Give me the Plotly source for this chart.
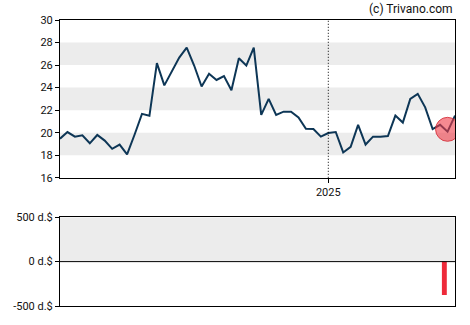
import plotly.graph_objects as go
import pandas as pd

dates = pd.date_range("2024-04-24", periods=54, freq="7D")
prices = [19.47, 20.06, 19.65, 19.77, 19.06, 19.8, 19.3, 18.57, 18.95, 18.07,
          19.82, 21.67, 21.5, 26.17, 24.2, 25.38, 26.67, 27.54, 25.96, 24.1,
          25.23, 24.68, 25.03, 23.77, 26.6, 25.96, 27.54, 21.58, 23.0, 21.58,
          21.87, 21.87, 21.35, 20.35, 20.32, 19.65, 19.97, 20.06, 18.25, 18.74,
          20.7, 18.95, 19.65, 19.65, 19.7, 21.52, 20.9, 23.0, 23.45, 22.25,
          20.32, 20.7, 20.09, 21.52]
marker_x = [dates[52]]
marker_y = [20.3]
bar_x = [pd.Timestamp("2025-04-20")]
bar_y = [-375]
price_ticks = [16, 18, 20, 22, 24, 26, 28, 30]
vol_ticks = [-500, 0, 500]
vol_tick_text = ["-500 d.$", "0 d.$", "500 d.$"]
year_tick = [pd.Timestamp("2025-01-01")]
year_tick_text = ["2025"]

fig = go.Figure()
fig.add_trace(go.Scatter(x=dates, y=prices, mode="lines",
                         line=dict(color="#0d3656", width=2), xaxis="x", yaxis="y",
                         hoverinfo="skip"))
fig.add_trace(go.Scatter(x=marker_x, y=marker_y, mode="markers",
                         marker=dict(size=24, color="rgba(238,60,72,0.6)",
                                     line=dict(color="rgba(210,40,50,0.8)", width=1)),
                         xaxis="x", yaxis="y"))
fig.add_trace(go.Bar(x=bar_x, y=bar_y, marker=dict(color="#ee2a3a", line=dict(width=0)),
                     width=4.6 * 86400000, xaxis="x2", yaxis="y2"))

shapes = []
for lo, hi in [(18, 20), (22, 24), (26, 28)]:
    shapes.append(dict(type="rect", xref="x domain", yref="y", x0=0, x1=1, y0=lo, y1=hi,
                       fillcolor="#ececec", line=dict(width=0), layer="below"))
shapes.append(dict(type="rect", xref="x2 domain", yref="y2", x0=0, x1=1, y0=0, y1=500,
                   fillcolor="#ececec", line=dict(width=0), layer="below"))
shapes.append(dict(type="line", xref="x", yref="y domain", x0=year_tick[0], x1=year_tick[0],
                   y0=0, y1=1, line=dict(color="black", width=1, dash="1px,2px")))
shapes.append(dict(type="line", xref="x2 domain", yref="y2", x0=0, x1=1, y0=0, y1=0,
                   line=dict(color="black", width=1)))

xr = [dates[0], dates[-1]]
font = dict(family="Roboto, Arial, sans-serif", size=11, color="#111")
fig.update_layout(
    width=470, height=325,
    margin=dict(l=60, r=15, t=20, b=15),
    paper_bgcolor="white", plot_bgcolor="white",
    showlegend=False, font=font, shapes=shapes,
    xaxis=dict(domain=[0, 1], anchor="y", range=xr, tickvals=year_tick, ticktext=year_tick_text,
               ticks="outside", ticklen=4, tickcolor="black", showgrid=False, zeroline=False,
               showline=True, linecolor="black", linewidth=1, mirror=True),
    yaxis=dict(domain=[0.4483, 1], anchor="x", range=[16, 30], tickvals=price_ticks,
               ticks="outside", ticklen=4, tickcolor="black", showgrid=False, zeroline=False,
               showline=True, linecolor="black", linewidth=1, mirror=True),
    xaxis2=dict(domain=[0, 1], anchor="y2", range=xr, showticklabels=False, ticks="",
                showgrid=False, zeroline=False, showline=True, linecolor="black",
                linewidth=1, mirror=True),
    yaxis2=dict(domain=[0, 0.3103], anchor="x2", range=[-500, 500], tickvals=vol_ticks,
                ticktext=vol_tick_text, ticks="outside", ticklen=4, tickcolor="black",
                showgrid=False, zeroline=False, showline=True, linecolor="black",
                linewidth=1, mirror=True),
    annotations=[dict(text="(c) Trivano.com", xref="paper", yref="paper", x=1, y=1,
                      xanchor="right", yanchor="bottom", yshift=2, showarrow=False,
                      font=dict(family="Roboto, Arial, sans-serif", size=12, color="#111"))],
)
fig.write_html("out.html")
